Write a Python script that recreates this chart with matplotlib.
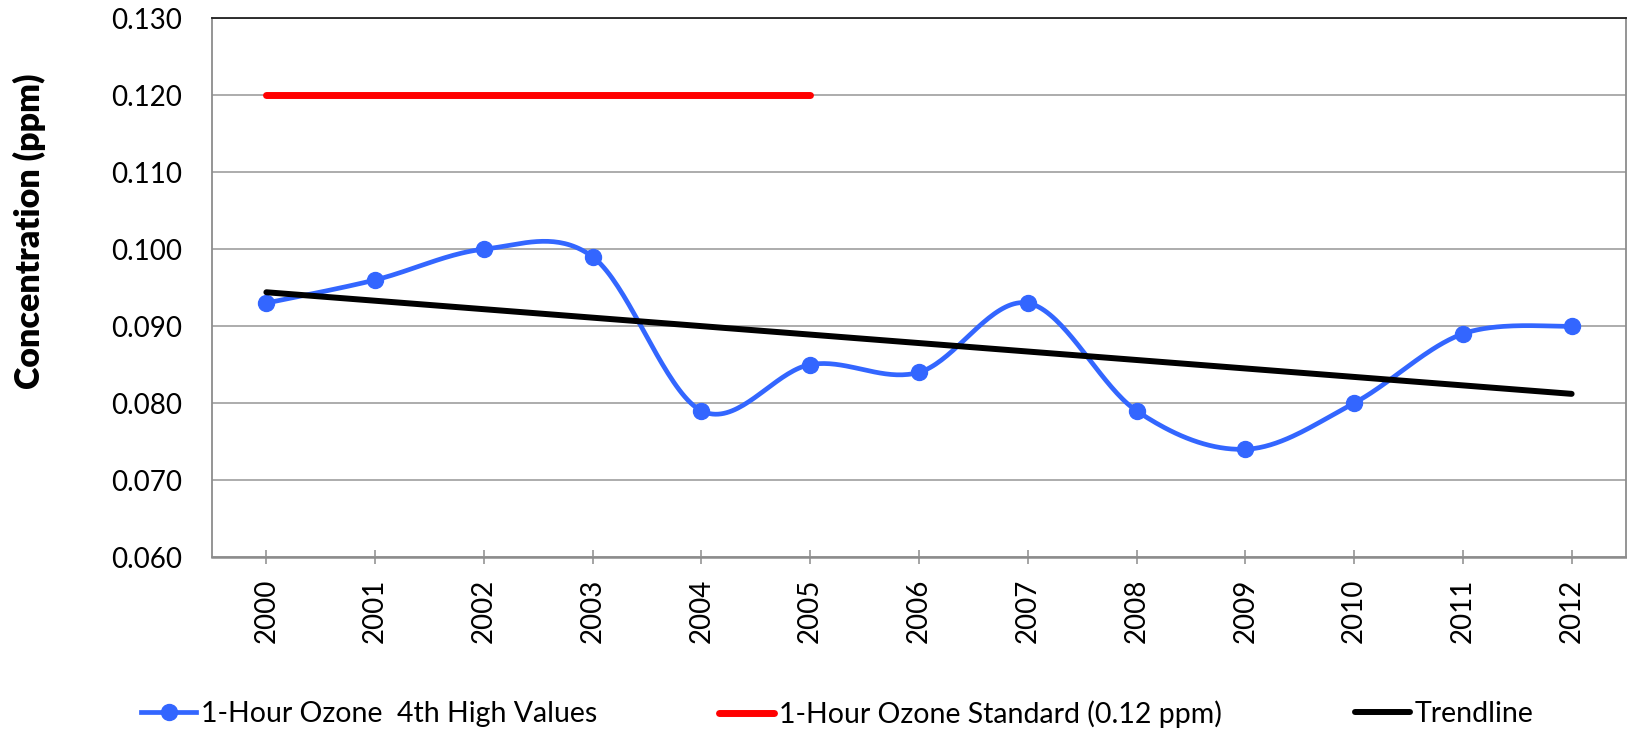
import numpy as np
import matplotlib
matplotlib.use("Agg")
import matplotlib.pyplot as plt
from matplotlib.lines import Line2D

# ---- data ----
years = ["2000", "2001", "2002", "2003", "2004", "2005", "2006",
         "2007", "2008", "2009", "2010", "2011", "2012"]
ozone_4th_high = [0.093, 0.096, 0.100, 0.099, 0.079, 0.085, 0.084,
                  0.093, 0.079, 0.074, 0.080, 0.089, 0.090]
standard_years = ["2000", "2001", "2002", "2003", "2004", "2005"]
standard_values = [0.120, 0.120, 0.120, 0.120, 0.120, 0.120]
trend_years = ["2000", "2012"]
trend_values = [0.0944, 0.0812]
yticks = [0.060, 0.070, 0.080, 0.090, 0.100, 0.110, 0.120, 0.130]

label_series = "1-Hour Ozone  4th High Values"
label_standard = "1-Hour Ozone Standard (0.12 ppm)"
label_trend = "Trendline"
ylabel = "Concentration (ppm)"

BLUE = "#3366FF"
RED = "#FF0000"
GRID = "#A6A6A6"
FONT = ["Lato", "DejaVu Sans"]

plt.rcParams["font.family"] = FONT

W, H = 1627, 731
fig = plt.figure(figsize=(W / 100, H / 100), dpi=100)
ax = fig.add_axes([212 / W, 1 - 557 / H, (1626 - 212) / W, (557 - 18.3) / H])

xpos = {y: i for i, y in enumerate(years)}


def smooth(xs, ys, n=40):
    """Excel-like smoothed line (Catmull-Rom as cubic Bezier)."""
    P = np.column_stack([xs, ys]).astype(float)
    out = []
    m = len(P)
    for i in range(m - 1):
        p0 = P[i]
        p3 = P[i + 1]
        prev = P[i - 1] if i > 0 else P[i]
        nxt = P[i + 2] if i + 2 < m else P[i + 1]
        c1 = p0 + (p3 - prev) / 6.0
        c2 = p3 - (nxt - p0) / 6.0
        t = np.linspace(0, 1, n)[:, None]
        seg = ((1 - t) ** 3) * p0 + 3 * ((1 - t) ** 2) * t * c1 + 3 * (1 - t) * t ** 2 * c2 + t ** 3 * p3
        out.append(seg if i == 0 else seg[1:])
    out = np.vstack(out)
    return out[:, 0], out[:, 1]


xs = [xpos[y] for y in years]
sx, sy = smooth(xs, ozone_4th_high)

ax.plot([xpos[y] for y in standard_years], standard_values, color=RED, lw=5.0,
        solid_capstyle="round", zorder=3)
ax.plot(sx, sy, color=BLUE, lw=3.4, zorder=4, solid_capstyle="round")
ax.plot(xs, ozone_4th_high, linestyle="none", marker="o", markersize=11.5,
        color=BLUE, zorder=5)
ax.plot([xpos[y] for y in trend_years], trend_values, color="black", lw=4.3,
        solid_capstyle="round", zorder=6)

ax.set_xlim(-0.5, len(years) - 0.5)
ax.set_ylim(0.060, 0.130)
ax.set_yticks(yticks)
ax.set_yticklabels([f"{v:.3f}" for v in yticks])
ax.set_xticks(xs)
ax.set_xticklabels(years, rotation=90, va="top", ha="center")

ax.grid(axis="y", color=GRID, lw=1.3)
ax.set_axisbelow(True)

ax.tick_params(axis="y", length=0, pad=21.6, labelsize=20)
ax.tick_params(axis="x", direction="inout", length=10, width=1.1, color="#8C8C8C",
               pad=10.5, labelsize=20)

for s in ["left", "right", "bottom"]:
    ax.spines[s].set_color("#8C8C8C")
    ax.spines[s].set_linewidth(1.3)
ax.spines["bottom"].set_linewidth(1.8)
ax.spines["top"].set_color("#202020")
ax.spines["top"].set_linewidth(1.3)

fig.text(29 / W, 1 - 231 / H, ylabel, rotation=90, ha="center", va="center",
         fontsize=24.5, fontweight="heavy")

# ---- legend: three entries placed individually ----
h1 = Line2D([], [], color=BLUE, lw=3.4, marker="o", markersize=11.5)
h2 = Line2D([], [], color=RED, lw=5.0, solid_capstyle="round")
h3 = Line2D([], [], color="black", lw=4.3, solid_capstyle="round")
ly = 1 - 714 / H
for h, lab, x0 in [(h1, label_series, 141), (h2, label_standard, 719), (h3, label_trend, 1355)]:
    fig.legend([h], [lab], loc="center left", bbox_to_anchor=(x0 / W, ly),
               frameon=False, borderpad=0, borderaxespad=0, handlelength=1.94,
               handletextpad=0.15, fontsize=20.5)

fig.savefig("out.png", dpi=100)
